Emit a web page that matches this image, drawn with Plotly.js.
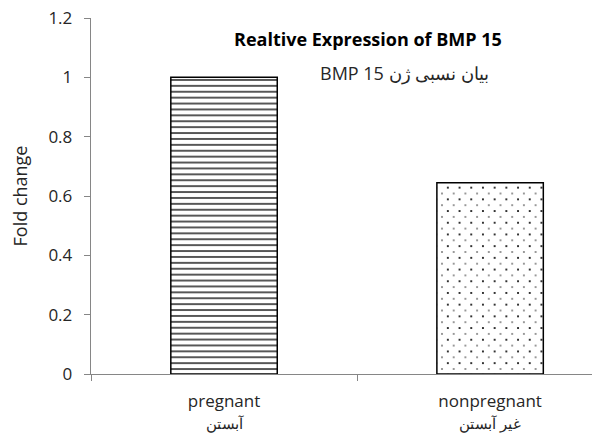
<!DOCTYPE html>
<html><head><meta charset="utf-8">
<script src="https://cdn.plot.ly/plotly-3.0.1.min.js"></script>
<style>body{margin:0;background:#fff}#chart{width:592px;height:434px}</style>
</head><body><div id="chart"></div>
<script>
const categories = ["pregnant<br><span style=\"font-size:15px\">آبستن</span>", "nonpregnant<br><span style=\"font-size:15px\">غیر آبستن</span>"];
const foldChange = [1.0, 0.645];
const yTicks = [0, 0.2, 0.4, 0.6, 0.8, 1, 1.2];
const yTickText = ["0", "0.2", "0.4", "0.6", "0.8", "1", "1.2"];
const titleText = "Realtive Expression of BMP 15";
const subtitleText = "\u202Bبیان نسبی ژن BMP 15\u202C";
const yTitle = "Fold change";

const font = "'Open Sans', sans-serif";
const W = 592, H = 434, ML = 91, MR = 0, MT = 18, MB = 60;
const pw = W - ML - MR, ph = H - MT - MB;
const xr = [-0.5, 1.383], yr = [0, 1.2];
const pxPerX = pw / (xr[1] - xr[0]), pxPerY = ph / (yr[1] - yr[0]);
const dotTile = 11.7, shift = dotTile / 2, dotSolidity = 0.025;

const mainTrace = {
  type: "bar", x: categories, y: foldChange, width: 0.4,
  marker: {
    color: "white",
    line: {color: "black", width: 1.5},
    pattern: {shape: ["-", "."], size: [5.9, dotTile], solidity: [0.22, dotSolidity], fgcolor: "black", bgcolor: "white", fillmode: "replace"}
  },
  hoverinfo: "none"
};
// second layer of dots, drawn in a subplot whose origin is offset by half a tile,
// giving the staggered dot fill of the second bar
const dotTrace = {
  type: "bar", x: categories, y: [null, foldChange[1]], width: 0.4,
  xaxis: "x2", yaxis: "y2",
  marker: {
    color: "rgba(0,0,0,0)",
    line: {width: 0},
    pattern: {shape: ".", size: dotTile, solidity: dotSolidity, fgcolor: "black", bgcolor: "rgba(0,0,0,0)", fillmode: "overlay"}
  },
  hoverinfo: "none"
};
const axisStyle = {
  showline: true, linecolor: "#868686", linewidth: 1.3,
  ticks: "outside", ticklen: 6, tickcolor: "#868686",
  showgrid: false, zeroline: false,
  tickfont: {family: font, size: 17, color: "#262626"}
};
const layout = {
  width: W, height: H,
  margin: {l: ML, r: MR, t: MT, b: MB},
  paper_bgcolor: "white", plot_bgcolor: "rgba(0,0,0,0)",
  showlegend: false,
  font: {family: font, size: 17, color: "#262626"},
  xaxis: Object.assign({}, axisStyle, {
    type: "category", range: xr, tickson: "boundaries", ticklabelstandoff: 11
  }),
  yaxis: Object.assign({}, axisStyle, {
    range: yr, tickvals: yTicks, ticktext: yTickText, ticklabelstandoff: 8,
    title: {text: yTitle, font: {family: font, size: 18, color: "#262626"}, standoff: 16}
  }),
  xaxis2: {
    type: "category", anchor: "y2",
    categoryarray: categories, categoryorder: "array",
    domain: [shift / pw, 1],
    range: [xr[0] + shift / pxPerX, xr[1]],
    visible: false, showgrid: false, zeroline: false
  },
  yaxis2: {
    anchor: "x2",
    domain: [0, 1 - shift / ph],
    range: [yr[0], yr[1] - shift / pxPerY],
    visible: false, showgrid: false, zeroline: false
  },
  annotations: [
    {text: "<b>" + titleText + "</b>", xref: "paper", yref: "paper", x: 0.553, y: 0.941, xanchor: "center", yanchor: "middle", showarrow: false, font: {family: font, size: 18, color: "#000"}},
    {text: subtitleText, xref: "paper", yref: "paper", x: 0.625, y: 0.846, xanchor: "center", yanchor: "middle", showarrow: false, font: {family: font, size: 18, color: "#262626"}}
  ]
};
Plotly.newPlot("chart", [mainTrace, dotTrace], layout, {staticPlot: true, displayModeBar: false});
</script></body></html>
